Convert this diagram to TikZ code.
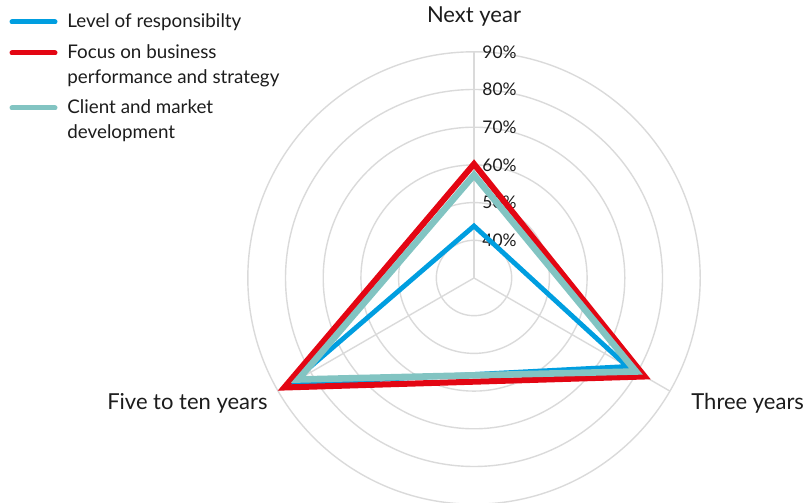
\documentclass[tikz,border=0pt]{standalone}
\usepackage{fontspec}
\setmainfont{Lato}
\usetikzlibrary{positioning}
\definecolor{respBlue}{RGB}{0, 158, 224}
\definecolor{focusRed}{RGB}{227, 6, 19}
\definecolor{clientTeal}{RGB}{130, 196, 194}
\definecolor{gridGray}{RGB}{218, 218, 218}
\definecolor{labelInk}{RGB}{28, 28, 28}
\tikzset{
    % Grid of the radar
    gridRing/.style={draw=gridGray, line width=0.7pt},
    gridSpoke/.style={draw=gridGray, line width=0.7pt},
    % Text styles
    pctLabel/.style={anchor=west, inner sep=0pt, text=labelInk, font=\fontsize{8.7}{10}\selectfont},
    axisLabel/.style={inner sep=0pt, text=labelInk, font=\fontsize{11}{13}\selectfont},
    legendText/.style={anchor=west, inner sep=0pt, align=left, text=labelInk, font=\fontsize{9.4}{12.5}\selectfont},
    % Series and legend swatches
    series/.style={line join=miter, miter limit=20},
    blueSeries/.style={series, draw=respBlue, line width=2.4pt},
    redSeries/.style={series, draw=focusRed, line width=3pt},
    tealSeries/.style={series, draw=clientTeal, line width=3.3pt},
    swatch/.style={line width=2.5pt, line cap=round}
}
\begin{document}
\begin{tikzpicture}[x=0.5pt, y=0.5pt]

    \useasboundingbox (0,0) rectangle (806,502);

    % --- RADAR GRID (centre = 30%) ---
    \begin{scope}[shift={(474,224)}]
        \coordinate (ctr) at (0,0);
        \draw [gridRing] (ctr) circle (37.7);
        \draw [gridRing] (ctr) circle (75.4);
        \draw [gridRing] (ctr) circle (113.1);
        \draw [gridRing] (ctr) circle (150.8);
        \draw [gridRing] (ctr) circle (188.5);
        \draw [gridRing] (ctr) circle (226.2);

        \coordinate (axNext) at (90:226.2);
        \coordinate (axThree) at (-30:226.2);
        \coordinate (axFive) at (210:226.2);
        \draw [gridSpoke] (ctr) -- (axNext);
        \draw [gridSpoke] (ctr) -- (axThree);
        \draw [gridSpoke] (ctr) -- (axFive);

        % Scale labels
        \node (p40) [pctLabel] at (8,37.7) {40\%};
        \node (p50) [pctLabel] at (8,75.4) {50\%};
        \node (p60) [pctLabel] at (8,113.1) {60\%};
        \node (p70) [pctLabel] at (8,150.8) {70\%};
        \node (p80) [pctLabel] at (8,188.5) {80\%};
        \node (p90) [pctLabel] at (8,226.2) {90\%};

        % --- SERIES ---
        \coordinate (bNext) at (90:52);
        \coordinate (bThree) at (-30:177);
        \coordinate (bFive) at (210:212);
        \coordinate (rNext) at (90:114);
        \coordinate (rThree) at (-30:197);
        \coordinate (rFive) at (210:219);
        \coordinate (tNext) at (90:103);
        \coordinate (tThree) at (-30:187);
        \coordinate (tFive) at (210:203);

        \draw [blueSeries] (bNext) -- (bThree) -- (bFive) -- cycle;
        \draw [redSeries] (rNext) -- (rThree) -- (rFive) -- cycle;
        \draw [tealSeries] (tNext) -- (tThree) -- (tFive) -- cycle;
    \end{scope}

    % --- AXIS LABELS ---
    \node (lblNext) [axisLabel] at (474,485) {Next year};
    \node (lblFive) [axisLabel, anchor=east] at (268,99) {Five to ten years};
    \node (lblThree) [axisLabel, anchor=west] at (691,99) {Three years};

    % --- LEGEND ---
    \node (legBlue) [legendText] at (67,480) {Level of responsibilty};
    \node (legRed) [legendText] at (67,436.5) {Focus on business\\performance and strategy};
    \node (legTeal) [legendText] at (67,381.5) {Client and market\\development};
    \draw [swatch, respBlue] (12,480) -- (55,480);
    \draw [swatch, focusRed] (12,449) -- (55,449);
    \draw [swatch, clientTeal] (12,394) -- (55,394);

\end{tikzpicture}
\end{document}
